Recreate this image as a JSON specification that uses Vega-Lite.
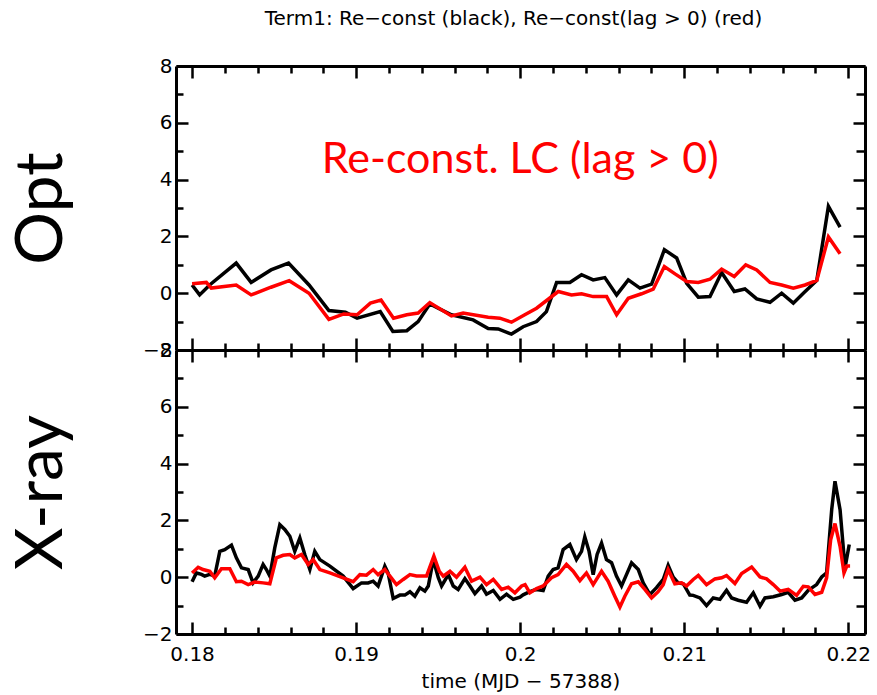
{
  "$schema": "https://vega.github.io/schema/vega-lite/v6.json",
  "background": "white",
  "padding": {"left": 8, "top": 9, "right": 5, "bottom": 5},
  "spacing": 0,
  "bounds": "flush",
  "config": {
    "view": {"stroke": null},
    "axis": {
      "domainColor": "black", "domainWidth": 3, "tickColor": "black", "tickWidth": 2.5,
      "labelFont": "DejaVu Sans", "labelFontSize": 20, "labelColor": "black",
      "grid": false, "labelFlush": false, "labelOverlap": false, "labelBound": false,
      "titleColor": "black", "titleFontWeight": "normal"
    }
  },
  "vconcat": [
    {
      "title": {"text": "Term1: Re−const (black), Re−const(lag > 0) (red)", "font": "DejaVu Sans", "fontSize": 20, "fontWeight": "normal", "color": "black", "anchor": "middle", "frame": "group", "dx": -7, "offset": 27},
      "width": 689, "height": 284,
      "resolve": {"axis": {"x": "independent", "y": "independent"}},
      "layer": [
        {
          "data": {"name": "opt_black"},
          "mark": {"type": "line", "color": "black", "strokeWidth": 3.5},
          "encoding": {
            "x": {"field": "t", "type": "quantitative", "scale": {"domain": [0.17902, 0.22102], "nice": false, "zero": false},
              "axis": {"orient": "bottom", "values": [0.18,0.182,0.184,0.186,0.188,0.19,0.192,0.194,0.196,0.198,0.2,0.202,0.204,0.206,0.208,0.21,0.212,0.214,0.216,0.218,0.22], "labels": false, "title": null,
                "tickSize": {"condition": {"test": "abs(datum.value*100 - round(datum.value*100)) < 0.01", "value": -12}, "value": -7}}},
            "y": {"field": "v", "type": "quantitative", "scale": {"domain": [-2, 8], "nice": false, "zero": false},
              "axis": {"orient": "left", "values": [-2,-1,0,1,2,3,4,5,6,7,8], "labelExpr": "datum.value % 2 == 0 ? datum.label : ''", "labelPadding": 16,
                "tickSize": {"condition": {"test": "datum.value % 2 == 0", "value": -12}, "value": -7},
                "title": "Opt", "titleFont": "Lato", "titleFontSize": 66, "titlePadding": 67}}
          }
        },
        {
          "data": {"name": "opt_red"},
          "mark": {"type": "line", "color": "#ff0000", "strokeWidth": 3.5},
          "encoding": {
            "x": {"field": "t", "type": "quantitative", "scale": {"domain": [0.17902, 0.22102], "nice": false, "zero": false},
              "axis": {"orient": "top", "values": [0.18,0.182,0.184,0.186,0.188,0.19,0.192,0.194,0.196,0.198,0.2,0.202,0.204,0.206,0.208,0.21,0.212,0.214,0.216,0.218,0.22], "labels": false, "title": null,
                "tickSize": {"condition": {"test": "abs(datum.value*100 - round(datum.value*100)) < 0.01", "value": -12}, "value": -7}}},
            "y": {"field": "v", "type": "quantitative", "scale": {"domain": [-2, 8], "nice": false, "zero": false},
              "axis": {"orient": "right", "values": [-2,-1,0,1,2,3,4,5,6,7,8], "labels": false, "title": null,
                "tickSize": {"condition": {"test": "datum.value % 2 == 0", "value": -12}, "value": -9}}}
          }
        },
        {
          "data": {"values": [{}]},
          "mark": {"type": "text", "color": "#ff0000", "font": "Lato", "fontSize": 43, "align": "center", "baseline": "alphabetic"},
          "encoding": {
            "x": {"datum": 0.2, "type": "quantitative", "axis": null, "scale": {"domain": [0.17902, 0.22102], "nice": false, "zero": false}},
            "y": {"datum": 4.25, "type": "quantitative", "axis": null, "scale": {"domain": [-2, 8], "nice": false, "zero": false}},
            "text": {"value": "Re-const. LC (lag > 0)"}
          }
        }
      ]
    },
    {
      "width": 689, "height": 284,
      "resolve": {"axis": {"x": "independent", "y": "independent"}},
      "layer": [
        {
          "data": {"name": "xray_black"},
          "mark": {"type": "line", "color": "black", "strokeWidth": 3.5},
          "encoding": {
            "x": {"field": "t", "type": "quantitative", "scale": {"domain": [0.17902, 0.22102], "nice": false, "zero": false},
              "axis": {"orient": "bottom", "values": [0.18,0.182,0.184,0.186,0.188,0.19,0.192,0.194,0.196,0.198,0.2,0.202,0.204,0.206,0.208,0.21,0.212,0.214,0.216,0.218,0.22],
                "labelExpr": "abs(datum.value*100 - round(datum.value*100)) < 0.01 ? format(datum.value, '~g') : ''", "labelPadding": 22,
                "tickSize": {"condition": {"test": "abs(datum.value*100 - round(datum.value*100)) < 0.01", "value": -12}, "value": -7},
                "title": "time (MJD − 57388)", "titleFont": "DejaVu Sans", "titleFontSize": 20, "titlePadding": 2}},
            "y": {"field": "v", "type": "quantitative", "scale": {"domain": [-2, 8], "nice": false, "zero": false},
              "axis": {"orient": "left", "values": [-2,-1,0,1,2,3,4,5,6,7,8], "labelExpr": "datum.value % 2 == 0 ? datum.label : ''", "labelPadding": 16,
                "tickSize": {"condition": {"test": "datum.value % 2 == 0", "value": -12}, "value": -7},
                "title": "X-ray", "titleFont": "Lato", "titleFontSize": 66, "titlePadding": 67}}
          }
        },
        {
          "data": {"name": "xray_red"},
          "mark": {"type": "line", "color": "#ff0000", "strokeWidth": 3.5},
          "encoding": {
            "x": {"field": "t", "type": "quantitative", "scale": {"domain": [0.17902, 0.22102], "nice": false, "zero": false},
              "axis": {"orient": "top", "values": [0.18,0.182,0.184,0.186,0.188,0.19,0.192,0.194,0.196,0.198,0.2,0.202,0.204,0.206,0.208,0.21,0.212,0.214,0.216,0.218,0.22], "labels": false, "title": null,
                "tickSize": {"condition": {"test": "abs(datum.value*100 - round(datum.value*100)) < 0.01", "value": -12}, "value": -7}}},
            "y": {"field": "v", "type": "quantitative", "scale": {"domain": [-2, 8], "nice": false, "zero": false},
              "axis": {"orient": "right", "values": [-2,-1,0,1,2,3,4,5,6,7,8], "labels": false, "title": null,
                "tickSize": {"condition": {"test": "datum.value % 2 == 0", "value": -12}, "value": -9}}}
          }
        }
      ]
    }
  ],
  "datasets": {
    "opt_black": [
      {"t":0.18,"v":0.29},{"t":0.18046,"v":-0.06},{"t":0.18107,"v":0.29},{"t":0.18269,"v":1.06},{"t":0.1836,"v":0.38},{"t":0.18481,"v":0.82},{"t":0.18588,"v":1.06},{"t":0.18713,"v":0.29},{"t":0.18834,"v":-0.61},{"t":0.18935,"v":-0.67},{"t":0.19006,"v":-0.88},{"t":0.19147,"v":-0.65},{"t":0.19224,"v":-1.35},{"t":0.19309,"v":-1.32},{"t":0.19378,"v":-1.0},{"t":0.19449,"v":-0.38},{"t":0.19581,"v":-0.76},{"t":0.19713,"v":-0.94},{"t":0.19805,"v":-1.24},{"t":0.19866,"v":-1.26},{"t":0.19947,"v":-1.44},{"t":0.20018,"v":-1.18},{"t":0.201,"v":-1.0},{"t":0.2016,"v":-0.65},{"t":0.20222,"v":0.38},{"t":0.20303,"v":0.38},{"t":0.20374,"v":0.65},{"t":0.20445,"v":0.47},{"t":0.20516,"v":0.55},{"t":0.20588,"v":-0.06},{"t":0.20659,"v":0.47},{"t":0.2073,"v":0.18},{"t":0.20801,"v":0.32},{"t":0.20879,"v":1.53},{"t":0.20954,"v":1.24},{"t":0.21015,"v":0.35},{"t":0.21086,"v":-0.14},{"t":0.21157,"v":-0.12},{"t":0.21228,"v":0.73},{"t":0.21305,"v":0.06},{"t":0.2137,"v":0.15},{"t":0.21442,"v":-0.2},{"t":0.21523,"v":-0.32},{"t":0.21594,"v":0.0},{"t":0.21665,"v":-0.35},{"t":0.21726,"v":0.0},{"t":0.21808,"v":0.45},{"t":0.21879,"v":3.06},{"t":0.2195,"v":2.33}
    ],
    "opt_red": [
      {"t":0.18,"v":0.33},{"t":0.18087,"v":0.38},{"t":0.18117,"v":0.18},{"t":0.18269,"v":0.29},{"t":0.1836,"v":-0.06},{"t":0.18481,"v":0.21},{"t":0.18592,"v":0.44},{"t":0.18713,"v":0.0},{"t":0.18834,"v":-0.92},{"t":0.18925,"v":-0.73},{"t":0.19006,"v":-0.76},{"t":0.19087,"v":-0.35},{"t":0.19152,"v":-0.24},{"t":0.19228,"v":-0.88},{"t":0.19309,"v":-0.76},{"t":0.19378,"v":-0.7},{"t":0.19449,"v":-0.33},{"t":0.19581,"v":-0.8},{"t":0.19652,"v":-0.7},{"t":0.19805,"v":-0.85},{"t":0.19876,"v":-0.88},{"t":0.19947,"v":-1.02},{"t":0.20028,"v":-0.76},{"t":0.201,"v":-0.53},{"t":0.20232,"v":0.06},{"t":0.20313,"v":-0.06},{"t":0.20374,"v":-0.02},{"t":0.20445,"v":-0.12},{"t":0.20527,"v":-0.12},{"t":0.20588,"v":-0.76},{"t":0.20659,"v":-0.18},{"t":0.2074,"v":-0.02},{"t":0.20811,"v":0.14},{"t":0.20879,"v":0.94},{"t":0.20944,"v":0.68},{"t":0.21015,"v":0.41},{"t":0.21086,"v":0.38},{"t":0.21157,"v":0.49},{"t":0.21228,"v":0.85},{"t":0.21305,"v":0.59},{"t":0.21375,"v":1.0},{"t":0.21442,"v":0.82},{"t":0.21523,"v":0.38},{"t":0.21594,"v":0.29},{"t":0.21665,"v":0.18},{"t":0.21736,"v":0.29},{"t":0.21808,"v":0.45},{"t":0.21879,"v":1.98},{"t":0.2195,"v":1.39}
    ],
    "xray_black": [
      {"t":0.18,"v":-0.16},{"t":0.18026,"v":0.15},{"t":0.18057,"v":0.1},{"t":0.18077,"v":0.04},{"t":0.18108,"v":0.1},{"t":0.18138,"v":0.04},{"t":0.18169,"v":0.91},{"t":0.18199,"v":0.97},{"t":0.1824,"v":1.13},{"t":0.1827,"v":0.68},{"t":0.18301,"v":0.33},{"t":0.18342,"v":0.27},{"t":0.18372,"v":-0.2},{"t":0.18403,"v":0.04},{"t":0.18433,"v":0.45},{"t":0.18453,"v":0.27},{"t":0.18474,"v":0.04},{"t":0.18504,"v":1.03},{"t":0.18535,"v":1.85},{"t":0.18565,"v":1.68},{"t":0.18596,"v":1.44},{"t":0.18626,"v":0.91},{"t":0.18657,"v":1.38},{"t":0.18687,"v":0.8},{"t":0.18718,"v":0.27},{"t":0.18748,"v":0.91},{"t":0.18779,"v":0.62},{"t":0.1884,"v":0.39},{"t":0.18921,"v":0.04},{"t":0.18982,"v":-0.4},{"t":0.19033,"v":-0.2},{"t":0.19073,"v":-0.2},{"t":0.19104,"v":-0.14},{"t":0.19134,"v":-0.31},{"t":0.19175,"v":0.39},{"t":0.19195,"v":0.15},{"t":0.19226,"v":-0.75},{"t":0.19267,"v":-0.63},{"t":0.19297,"v":-0.63},{"t":0.19328,"v":-0.51},{"t":0.19358,"v":-0.67},{"t":0.19389,"v":-0.37},{"t":0.19419,"v":-0.49},{"t":0.1944,"v":-0.31},{"t":0.1947,"v":0.62},{"t":0.19501,"v":-0.02},{"t":0.19521,"v":-0.31},{"t":0.19562,"v":0.09},{"t":0.19592,"v":-0.31},{"t":0.19622,"v":-0.43},{"t":0.19663,"v":-0.05},{"t":0.19694,"v":-0.31},{"t":0.19724,"v":-0.58},{"t":0.19765,"v":-0.31},{"t":0.19795,"v":-0.6},{"t":0.19836,"v":-0.47},{"t":0.19877,"v":-0.78},{"t":0.19917,"v":-0.6},{"t":0.19958,"v":-0.78},{"t":0.19999,"v":-0.7},{"t":0.20018,"v":-0.62},{"t":0.20059,"v":-0.51},{"t":0.201,"v":-0.43},{"t":0.2014,"v":-0.47},{"t":0.20171,"v":0.04},{"t":0.20201,"v":0.27},{"t":0.20231,"v":0.33},{"t":0.20262,"v":0.97},{"t":0.20303,"v":1.15},{"t":0.20343,"v":0.62},{"t":0.20374,"v":0.91},{"t":0.20394,"v":1.42},{"t":0.2042,"v":0.91},{"t":0.20445,"v":0.09},{"t":0.20469,"v":0.8},{"t":0.20496,"v":1.2},{"t":0.20526,"v":0.62},{"t":0.20557,"v":0.51},{"t":0.20587,"v":0.04},{"t":0.20618,"v":-0.31},{"t":0.20648,"v":0.09},{"t":0.20679,"v":0.51},{"t":0.2072,"v":0.27},{"t":0.2075,"v":-0.2},{"t":0.20791,"v":-0.61},{"t":0.20831,"v":-0.37},{"t":0.20872,"v":-0.08},{"t":0.20902,"v":0.42},{"t":0.20933,"v":0.0},{"t":0.20963,"v":-0.2},{"t":0.20994,"v":-0.23},{"t":0.21034,"v":-0.63},{"t":0.21055,"v":-0.64},{"t":0.21096,"v":-0.73},{"t":0.21136,"v":-1.0},{"t":0.21177,"v":-0.73},{"t":0.21218,"v":-0.78},{"t":0.21258,"v":-0.46},{"t":0.21289,"v":-0.73},{"t":0.21329,"v":-0.81},{"t":0.2138,"v":-0.88},{"t":0.21421,"v":-0.55},{"t":0.21462,"v":-1.02},{"t":0.21492,"v":-0.73},{"t":0.21543,"v":-0.69},{"t":0.21594,"v":-0.61},{"t":0.21634,"v":-0.53},{"t":0.21675,"v":-0.81},{"t":0.21716,"v":-0.73},{"t":0.21756,"v":-0.46},{"t":0.21807,"v":-0.26},{"t":0.21838,"v":0.01},{"t":0.21868,"v":0.15},{"t":0.21899,"v":2.38},{"t":0.21919,"v":3.38},{"t":0.2195,"v":2.38},{"t":0.2198,"v":0.33},{"t":0.22006,"v":1.15}
    ],
    "xray_red": [
      {"t":0.18,"v":0.15},{"t":0.18037,"v":0.35},{"t":0.18067,"v":0.27},{"t":0.18108,"v":0.21},{"t":0.18138,"v":-0.02},{"t":0.18179,"v":0.3},{"t":0.1823,"v":0.3},{"t":0.1827,"v":-0.16},{"t":0.18301,"v":-0.14},{"t":0.18342,"v":-0.26},{"t":0.18382,"v":-0.17},{"t":0.18433,"v":-0.2},{"t":0.18474,"v":-0.23},{"t":0.18514,"v":0.68},{"t":0.18555,"v":0.77},{"t":0.18596,"v":0.8},{"t":0.18626,"v":0.68},{"t":0.18667,"v":0.8},{"t":0.18708,"v":0.45},{"t":0.18738,"v":0.62},{"t":0.18779,"v":0.27},{"t":0.1884,"v":0.15},{"t":0.18921,"v":-0.02},{"t":0.18982,"v":-0.16},{"t":0.19023,"v":0.09},{"t":0.19063,"v":0.07},{"t":0.19104,"v":0.27},{"t":0.19134,"v":0.09},{"t":0.19175,"v":0.27},{"t":0.19206,"v":0.04},{"t":0.19246,"v":-0.26},{"t":0.19287,"v":-0.08},{"t":0.19328,"v":0.09},{"t":0.19368,"v":0.04},{"t":0.19429,"v":0.04},{"t":0.19474,"v":0.74},{"t":0.19507,"v":0.21},{"t":0.19531,"v":0.04},{"t":0.19572,"v":0.21},{"t":0.19612,"v":0.0},{"t":0.19663,"v":0.35},{"t":0.19704,"v":-0.14},{"t":0.19755,"v":0.0},{"t":0.19795,"v":-0.26},{"t":0.19836,"v":-0.08},{"t":0.19887,"v":-0.43},{"t":0.19927,"v":-0.35},{"t":0.19968,"v":-0.55},{"t":0.20009,"v":-0.31},{"t":0.2003,"v":-0.26},{"t":0.20059,"v":-0.55},{"t":0.201,"v":-0.4},{"t":0.2014,"v":-0.31},{"t":0.20191,"v":-0.02},{"t":0.20231,"v":0.09},{"t":0.20282,"v":0.45},{"t":0.20323,"v":0.21},{"t":0.20364,"v":-0.12},{"t":0.20404,"v":0.15},{"t":0.20445,"v":-0.26},{"t":0.20496,"v":0.21},{"t":0.20536,"v":-0.14},{"t":0.20577,"v":-0.67},{"t":0.20608,"v":-1.05},{"t":0.20638,"v":-0.67},{"t":0.20679,"v":-0.23},{"t":0.2072,"v":-0.16},{"t":0.2076,"v":-0.43},{"t":0.20801,"v":-0.73},{"t":0.20841,"v":-0.51},{"t":0.20872,"v":-0.26},{"t":0.20902,"v":0.27},{"t":0.20943,"v":-0.23},{"t":0.20984,"v":-0.2},{"t":0.21014,"v":-0.31},{"t":0.21055,"v":-0.08},{"t":0.21086,"v":0.06},{"t":0.21136,"v":-0.26},{"t":0.21187,"v":-0.06},{"t":0.21228,"v":-0.02},{"t":0.21258,"v":0.06},{"t":0.21309,"v":-0.22},{"t":0.2135,"v":0.13},{"t":0.21411,"v":0.36},{"t":0.21462,"v":0.01},{"t":0.21502,"v":-0.06},{"t":0.21543,"v":-0.26},{"t":0.21584,"v":-0.49},{"t":0.21634,"v":-0.43},{"t":0.21685,"v":-0.64},{"t":0.21726,"v":-0.32},{"t":0.21756,"v":-0.34},{"t":0.21797,"v":-0.61},{"t":0.21838,"v":-0.53},{"t":0.21868,"v":-0.02},{"t":0.21893,"v":1.33},{"t":0.21919,"v":1.89},{"t":0.2195,"v":1.09},{"t":0.21974,"v":0.15},{"t":0.21991,"v":0.39},{"t":0.22011,"v":0.39}
    ]
  }
}
